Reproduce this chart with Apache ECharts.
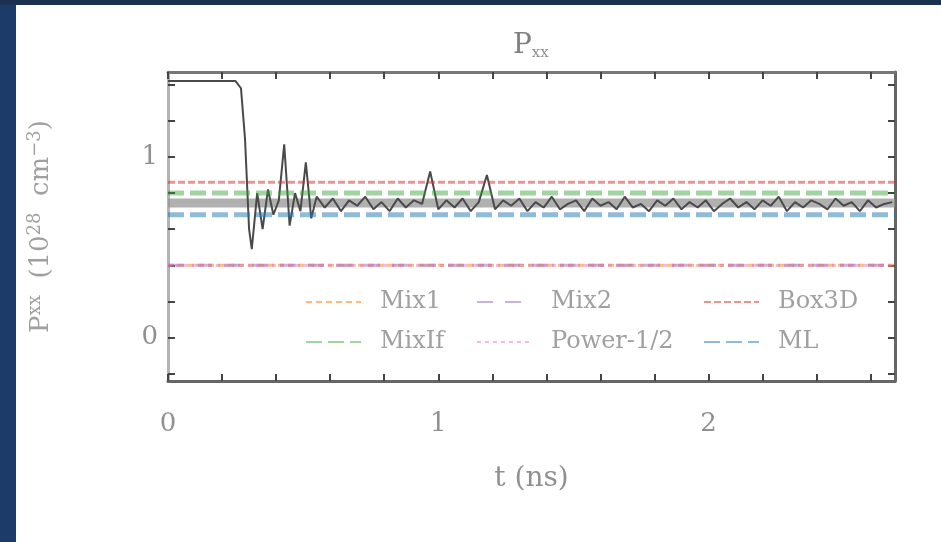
<!DOCTYPE html>
<html>
<head>
<meta charset="utf-8">
<script src="https://cdn.jsdelivr.net/npm/echarts@6/dist/echarts.min.js"></script>
<style>
html,body{margin:0;padding:0;width:941px;height:542px;background:#1d3b68;overflow:hidden;}
#frame{position:absolute;left:0;top:0;width:941px;height:5px;background:#1c3050;}
#pxx{position:absolute;left:16px;top:5px;width:925px;height:537px;background:#fff;}
</style>
</head>
<body>
<div id="frame"></div>
<div id="pxx"></div>
<script>
// simulation curve P_xx(t)
var simT = [0, 0.25, 0.27, 0.285, 0.30, 0.31, 0.33, 0.35, 0.37, 0.39,
  0.41, 0.43, 0.45, 0.47, 0.49, 0.51, 0.53, 0.55,
  0.58, 0.61, 0.64, 0.67, 0.70, 0.73, 0.76, 0.79, 0.82, 0.85,
  0.88, 0.91, 0.94, 0.97, 1.00, 1.03, 1.06, 1.09, 1.12, 1.15,
  1.18, 1.21, 1.24, 1.27, 1.30, 1.33, 1.36, 1.39, 1.42, 1.45,
  1.48, 1.51, 1.54, 1.57, 1.60, 1.63, 1.66, 1.69, 1.72, 1.75,
  1.78, 1.81, 1.84, 1.87, 1.90, 1.93, 1.96, 1.99, 2.02, 2.05,
  2.08, 2.11, 2.14, 2.17, 2.20, 2.23, 2.26, 2.29, 2.32, 2.35,
  2.38, 2.41, 2.44, 2.47, 2.50, 2.53, 2.56, 2.59, 2.62, 2.65,
  2.68];
var simP = [1.42, 1.42, 1.38, 1.10, 0.60, 0.49, 0.80, 0.60, 0.82, 0.68,
  0.76, 1.07, 0.62, 0.80, 0.70, 0.97, 0.66, 0.78,
  0.72, 0.77, 0.70, 0.76, 0.73, 0.78, 0.71, 0.75, 0.70, 0.77,
  0.72, 0.76, 0.74, 0.92, 0.71, 0.76, 0.72, 0.77, 0.70, 0.75,
  0.90, 0.71, 0.76, 0.73, 0.77, 0.70, 0.75, 0.72, 0.78, 0.71,
  0.74, 0.76, 0.70, 0.77, 0.73, 0.75, 0.71, 0.78, 0.72, 0.74,
  0.70, 0.76, 0.73, 0.77, 0.71, 0.75, 0.72, 0.76, 0.70, 0.74,
  0.77, 0.72, 0.75, 0.71, 0.76, 0.73, 0.78, 0.70, 0.75, 0.72,
  0.76, 0.74, 0.71, 0.77, 0.73, 0.75, 0.70, 0.76, 0.72, 0.74,
  0.75];
// time-averaged value (thick grey line)
var meanP = 0.745;

// model predictions (horizontal lines)
var modelNames = ['Mix1', 'Mix2', 'Box3D', 'MixIf', 'Power-1/2', 'ML'];
var modelValues = [0.40, 0.40, 0.86, 0.80, 0.40, 0.68];
var modelColors = ['rgba(255,127,14,0.55)', 'rgba(148,103,189,0.5)', 'rgba(214,39,40,0.5)',
  'rgba(44,160,44,0.45)', 'rgba(227,119,194,0.5)', 'rgba(31,119,180,0.5)'];
var modelDash = [[6, 4], [16, 12], [7, 3], [16, 6], [4, 4], [16, 6]];
var modelWidth = [3, 3, 3, 5, 3, 5];

var tMin = 0, tMax = 2.69;
var pMin = -0.24, pMax = 1.47;
var xTicks = [0, 0.2, 0.4, 0.6, 0.8, 1, 1.2, 1.4, 1.6, 1.8, 2, 2.2, 2.4, 2.6];
var xLabels = [0, 1, 2];
var yTicks = [-0.2, 0, 0.2, 0.4, 0.6, 0.8, 1, 1.2, 1.4];
var yLabels = [0, 1];

var serif = 'DejaVu Serif';
var chart = echarts.init(document.getElementById('pxx'));

var series = [];
series.push({
  name: 'mean', type: 'line', symbol: 'none', silent: true, z: 1,
  data: [[tMin, meanP], [tMax, meanP]],
  lineStyle: {color: 'rgba(150,150,150,0.75)', width: 9}
});
series.push({
  name: 'sim', type: 'line', symbol: 'none', silent: true, z: 2,
  data: simT.map(function (t, i) { return [t, simP[i]]; }),
  lineStyle: {color: '#4a4a4a', width: 2}
});
for (var i = 0; i < modelNames.length; i++) {
  series.push({
    name: modelNames[i], type: 'line', symbol: 'none', z: 3,
    data: [[tMin, modelValues[i]], [tMax, modelValues[i]]],
    itemStyle: {color: modelColors[i]},
    lineStyle: {color: modelColors[i], width: modelWidth[i], type: modelDash[i]}
  });
}

function legendBlock(names, left) {
  return {
    data: names, orient: 'vertical', left: left, top: 280,
    itemWidth: 55, itemHeight: 14, itemGap: 16,
    itemStyle: {opacity: 0},
    textStyle: {fontFamily: serif, fontSize: 24, color: '#a0a0a0', padding: [0, 0, 0, 14]}
  };
}

function tickAxis(pos, min, max, ticks, labels, color, show) {
  return {
    type: 'value', position: pos, min: min, max: max,
    splitLine: {show: false},
    axisLine: {show: true, onZero: false, lineStyle: {color: color, width: 3}},
    axisTick: {show: true, inside: true, length: 7, customValues: ticks,
      lineStyle: {color: '#444', width: 2}},
    axisLabel: {show: show, customValues: labels, fontFamily: serif, fontSize: 26,
      color: '#909090', margin: pos === 'bottom' ? 30 : 10}
  };
}

var xBottom = tickAxis('bottom', tMin, tMax, xTicks, xLabels, '#666', true);
xBottom.name = 't (ns)';
xBottom.nameLocation = 'middle';
xBottom.nameGap = 84;
xBottom.nameTextStyle = {fontFamily: serif, fontSize: 28, color: '#909090'};

var yLeft = tickAxis('left', pMin, pMax, yTicks, yLabels, '#b3b3b3', true);
yLeft.name = '{m|P}{s|xx}{m|  (10}{s|28}{m|  cm}{s|−3}{m|)}';
yLeft.nameLocation = 'middle';
yLeft.nameGap = 112;
yLeft.nameTextStyle = {rich: {
  m: {fontFamily: serif, fontSize: 26, color: '#a0a0a0'},
  s: {fontFamily: serif, fontSize: 18, color: '#a0a0a0', padding: [0, 0, 12, 0]}
}};

var option = {
  animation: false,
  backgroundColor: '#fff',
  title: {
    text: '{p|P}{s|xx}', left: 492, top: 20,
    textStyle: {fontWeight: 'normal', rich: {
      p: {fontFamily: serif, fontSize: 28, fontWeight: 'normal', color: '#808080'},
      s: {fontFamily: serif, fontSize: 15, fontWeight: 'normal', color: '#909090', padding: [16, 0, 0, 0]}
    }}
  },
  grid: {left: 152, right: 46, top: 67, bottom: 161},
  legend: [
    legendBlock(['Mix1', 'MixIf'], 284),
    legendBlock(['Mix2', 'Power-1/2'], 455),
    legendBlock(['Box3D', 'ML'], 682)
  ],
  xAxis: [xBottom, tickAxis('top', tMin, tMax, xTicks, xLabels, '#777', false)],
  yAxis: [yLeft, tickAxis('right', pMin, pMax, yTicks, yLabels, '#666', false)],
  series: series
};

chart.setOption(option);
</script>
</body>
</html>
